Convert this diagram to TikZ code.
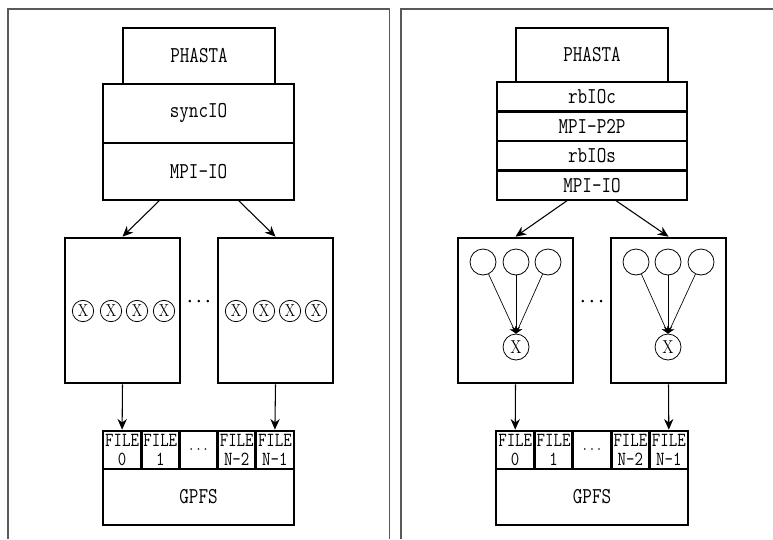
\documentclass[tikz,border=0pt]{standalone}
\usepackage{graphicx}
\usetikzlibrary{arrows.meta}
\newcommand{\tallt}[1]{\scalebox{0.82}[1]{#1}}
\begin{document}
\begin{tikzpicture}[x=0.75pt,y=-0.75pt,
  lbl/.style={font=\ttfamily\fontsize{17}{17}\selectfont},
  blk/.style={draw,line width=2pt,inner sep=0pt,lbl},
  cell/.style={blk,minimum width=28.6pt,minimum height=28.5pt,align=center,font=\ttfamily\fontsize{15}{14.5}\selectfont},
  xc/.style={draw,circle,line width=0.6pt,minimum size=16pt,inner sep=0pt,font=\fontsize{13}{12}\selectfont},
  oc/.style={draw,circle,line width=0.6pt,minimum size=19.5pt,inner sep=0pt},
  arr/.style={line width=0.8pt,-{Stealth[length=8pt,width=7pt]}},
  sarr/.style={line width=0.5pt,-{Stealth[length=5pt,width=6pt]}},
  frame/.style={line width=1pt,black!65},
  dots/.style={font=\fontsize{6.5}{7}\selectfont}]
\useasboundingbox (0,0) rectangle (773,539);
% frames
\draw[frame] (8,539) -- (8,9) -- (389.5,9) -- (389.5,539);
\draw[frame] (401,539) -- (401,9) -- (773,9);

% ---------- left panel ----------
\node[blk,minimum width=114pt,minimum height=42pt] (phL) at (199,56) {\tallt{PHASTA}};
\node[blk,minimum width=143.25pt,minimum height=44.25pt] (syncL) at (198.5,113.5) {\tallt{syncIO}};
\node[blk,minimum width=143.25pt,minimum height=42.75pt] (mpiL) at (198.5,171.5) {\tallt{MPI-IO}};
\node[blk,minimum width=86.25pt,minimum height=108.75pt] (bL1) at (122.5,310.5) {};
\node[blk,minimum width=86.25pt,minimum height=108.75pt] (bL2) at (275.5,310.5) {};
\coordinate (aL1) at (160,200);
\coordinate (aL2) at (238,200);
\draw[arr] (aL1) -- (bL1.north);
\draw[arr] (aL2) -- (bL2.north);
\foreach \x/\n in {83/1,111/2,137/3,164/4,236/5,264/6,290/7,316/8}
  \node[xc] (xL\n) at (\x,311) {\tallt{X}};
\node[dots] (dL) at (199,302) {\textbullet\,\textbullet\,\textbullet};
% files
\node[cell] (fL0) at (122.1,450) {\tallt{FILE}\\\tallt{0}};
\node[cell] (fL1) at (160.3,450) {\tallt{FILE}\\\tallt{1}};
\node[cell,font=\fontsize{13}{13}\selectfont] (fL2) at (198.5,450) {$\cdots$};
\node[cell] (fL3) at (236.7,450) {\tallt{FILE}\\\tallt{N-2}};
\node[cell] (fL4) at (274.9,450) {\tallt{FILE}\\\tallt{N-1}};
\node[blk,minimum width=143.25pt,minimum height=42pt] (gL) at (198.5,497) {\tallt{GPFS}};
\draw[arr] (bL1.south) -- (fL0.north);
\draw[arr] (bL2.south) -- (fL4.north);

% ---------- right panel ----------
\node[blk,minimum width=114pt,minimum height=40.5pt] (phR) at (592,55) {\tallt{PHASTA}};
\node[blk,minimum width=142.5pt,minimum height=22.1pt] (r1) at (592,96.75) {\tallt{rbIOc}};
\node[blk,minimum width=142.5pt,minimum height=22.1pt] (r2) at (592,126.25) {\tallt{MPI-P2P}};
\node[blk,minimum width=142.5pt,minimum height=22.1pt] (r3) at (592,155.75) {\tallt{rbIOs}};
\node[blk,minimum width=142.5pt,minimum height=22.1pt] (r4) at (592,185.25) {\tallt{MPI-IO}};
\node[blk,minimum width=86.25pt,minimum height=108.75pt] (bR1) at (515.5,310.5) {};
\node[blk,minimum width=86.25pt,minimum height=108.75pt] (bR2) at (668.5,310.5) {};
\coordinate (aR1) at (568,200);
\coordinate (aR2) at (615,200);
\draw[arr] (aR1) -- (bR1.north);
\draw[arr] (aR2) -- (bR2.north);
% left node
\node[oc] (cA1) at (483,262) {};
\node[oc] (cA2) at (516,262) {};
\node[oc] (cA3) at (548,262) {};
\node[oc,font=\fontsize{14}{12}\selectfont] (xA) at (516,347) {\tallt{X}};
\foreach \c in {cA1,cA2,cA3} \draw[sarr] (\c) -- (xA.north);
% right node
\node[oc] (cB1) at (636,262) {};
\node[oc] (cB2) at (668,262) {};
\node[oc] (cB3) at (701,262) {};
\node[oc,font=\fontsize{14}{12}\selectfont] (xB) at (668,347) {\tallt{X}};
\foreach \c in {cB1,cB2,cB3} \draw[sarr] (\c) -- (xB.north);
\node[dots] (dR) at (592,302) {\textbullet\,\textbullet\,\textbullet};
% files
\node[cell] (fR0) at (515.2,450) {\tallt{FILE}\\\tallt{0}};
\node[cell] (fR1) at (553.6,450) {\tallt{FILE}\\\tallt{1}};
\node[cell,font=\fontsize{13}{13}\selectfont] (fR2) at (592,450) {$\cdots$};
\node[cell] (fR3) at (630.4,450) {\tallt{FILE}\\\tallt{N-2}};
\node[cell] (fR4) at (668.8,450) {\tallt{FILE}\\\tallt{N-1}};
\node[blk,minimum width=144pt,minimum height=42pt] (gR) at (592,497) {\tallt{GPFS}};
\draw[arr] (bR1.south) -- (fR0.north);
\draw[arr] (bR2.south) -- (fR4.north);
\end{tikzpicture}
\end{document}
